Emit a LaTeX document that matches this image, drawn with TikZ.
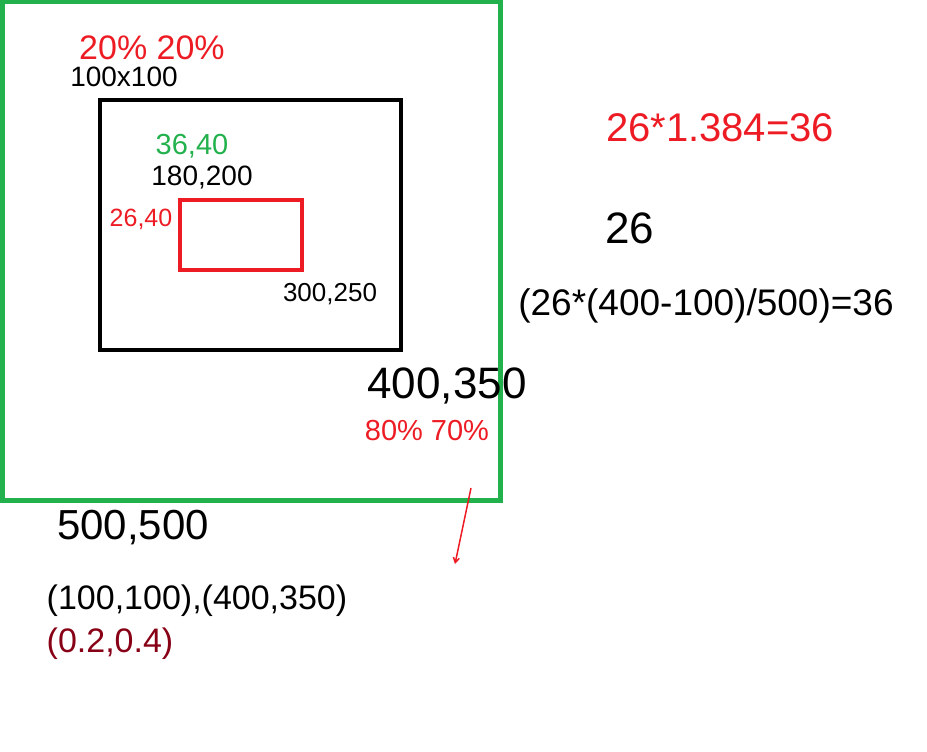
\documentclass[tikz,border=0pt]{standalone}
\usepackage{fontspec}
\setmainfont{Liberation Sans}
\usetikzlibrary{arrows.meta}
\definecolor{paintred}{HTML}{ED1C24}
\definecolor{paintgreen}{HTML}{22B14C}
\definecolor{paintdark}{HTML}{880015}
\begin{document}
\begin{tikzpicture}[x=1pt,y=-1pt,
    txt/.style={inner sep=0pt,anchor=center},
    fs/.style={font=\fontsize{#1}{#1}\selectfont}]
  \useasboundingbox (0,0) rectangle (927,752);

  \draw[paintgreen,line width=5] (2,2) rectangle (500,500);
  \draw[black,line width=4] (100,100) rectangle (401,350);
  \draw[paintred,line width=4.5] (180,200) rectangle (302,270);

  \node[txt,fs=34,paintred] (pcttop) at (152,48) {20\%\ 20\%};
  \node[txt,fs=28] (sizetop) at (124,77) {100x100};
  \node[txt,fs=29,paintgreen] (greenpt) at (192,146) {36,40};
  \node[txt,fs=28] (startpt) at (202,178) {180,200};
  \node[txt,fs=25,paintred] (redpt) at (141,219) {26,40};
  \node[txt,fs=26] (endpt) at (330,294) {300,250};
  \node[txt,fs=44] (cornerpt) at (447,386) {400,350};
  \node[txt,fs=29,paintred] (pctbot) at (427,431) {80\%\ 70\%};
  \node[txt,fs=40,paintred] (calcred) at (720,128) {26*1.384=36};
  \node[txt,fs=44] (base) at (630,228) {26};
  \node[txt,fs=37] (calc) at (706,306) {(26*(400-100)/500)=36};
  \node[txt,fs=42] (sizebot) at (133,528) {500,500};
  \node[txt,fs=34] (pair) at (197,601) {(100,100),(400,350)};
  \node[txt,fs=34,paintdark] (ratio) at (110,644) {(0.2,0.4)};

  \coordinate (tail) at (471,488);
  \coordinate (tip) at (455,564);
  \draw[paintred,line width=1.5,-{Straight Barb[length=5pt,width=6pt]}] (tail) -- (tip);

\end{tikzpicture}
\end{document}
